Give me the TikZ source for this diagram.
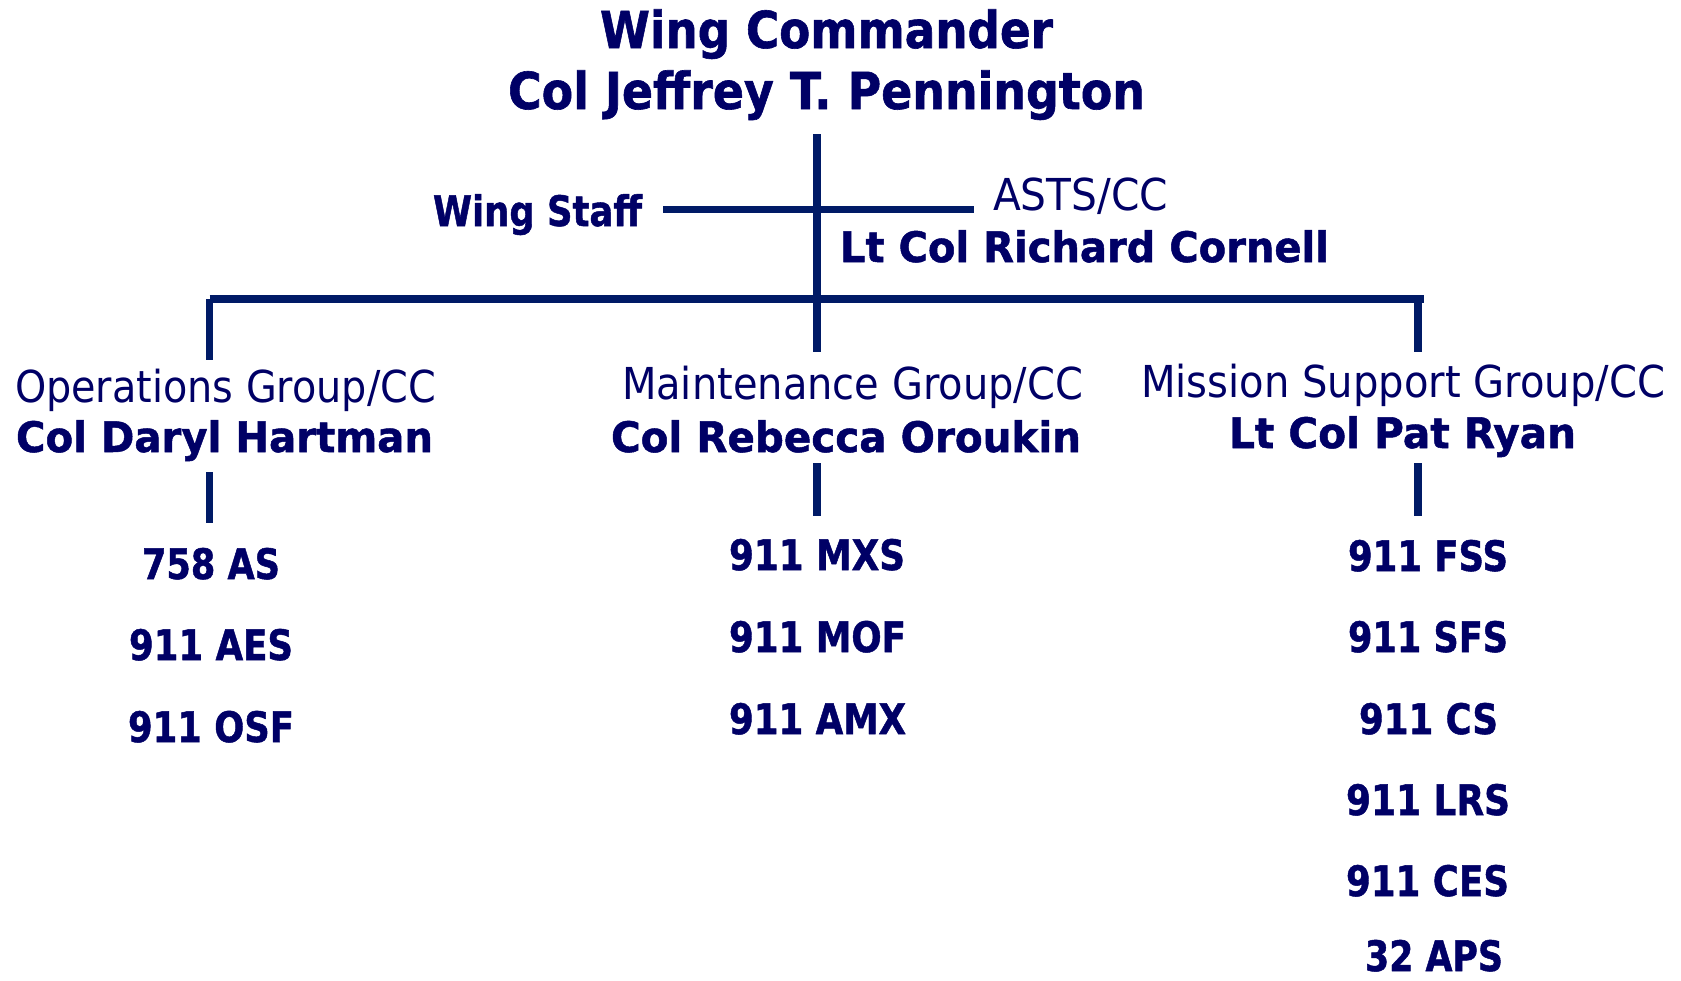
\documentclass[tikz,border=0pt]{standalone}
\usepackage{fontspec}
\setmainfont[BoldFeatures={FakeBold=1.2}]{DejaVu Sans}
\usepackage{graphicx}
\definecolor{txt}{RGB}{0,0,102}
\definecolor{ln}{RGB}{0,26,102}
\newsavebox\fitbox
\newlength\fitlen
\newcommand\fitw[2]{\sbox\fitbox{#2}\setlength\fitlen{\wd\fitbox}\pgfmathsetmacro\fitr{#1/\fitlen}\scalebox{\fitr}[1]{\usebox\fitbox}}
\begin{document}
\begin{tikzpicture}[x=1pt,y=-1pt,
  lbl/.style={anchor=base west, inner sep=0pt, outer sep=0pt, text=txt},
  bigb/.style={lbl, font=\fontsize{51}{60}\selectfont\bfseries},
  medb/.style={lbl, font=\fontsize{42}{50}\selectfont\bfseries},
  reg/.style={lbl, font=\fontsize{44}{52}\selectfont},
  conn/.style={draw=ln, line width=7.5pt}]
\useasboundingbox (0,0) rectangle (1681,980);
% titles
\node[bigb] (wc) at (600,48) {\fitw{453}{Wing Commander}};
\node[bigb] (cc) at (508,109) {\fitw{637}{Col Jeffrey T. Pennington}};
\node[medb] (ws) at (433,226) {\fitw{209}{Wing Staff}};
\node[reg] (asts) at (993,210) {\fitw{175}{ASTS/CC}};
\node[medb] (astsn) at (840,262) {\fitw{489}{Lt Col Richard Cornell}};
\node[reg] (og) at (15,402) {\fitw{421}{Operations Group/CC}};
\node[medb] (ogn) at (16,452) {\fitw{417}{Col Daryl Hartman}};
\node[reg] (mg) at (622,399) {\fitw{461}{Maintenance Group/CC}};
\node[medb] (mgn) at (611,452) {\fitw{470}{Col Rebecca Oroukin}};
\node[reg] (msg) at (1141,397) {\fitw{524}{Mission Support Group/CC}};
\node[medb] (msgn) at (1229,448) {\fitw{347}{Lt Col Pat Ryan}};
% units
\node[medb] (u1) at (142,579) {\fitw{138}{758 AS}};
\node[medb] (u2) at (129,660) {\fitw{164}{911 AES}};
\node[medb] (u3) at (128,742) {\fitw{166}{911 OSF}};
\node[medb] (u4) at (729,570) {\fitw{176}{911 MXS}};
\node[medb] (u5) at (729,652) {\fitw{177}{911 MOF}};
\node[medb] (u6) at (729,734) {\fitw{177}{911 AMX}};
\node[medb] (u7) at (1348,571) {\fitw{160}{911 FSS}};
\node[medb] (u8) at (1348,652) {\fitw{160}{911 SFS}};
\node[medb] (u9) at (1359,734) {\fitw{139}{911 CS}};
\node[medb] (u10) at (1346,815) {\fitw{164}{911 LRS}};
\node[medb] (u11) at (1346,896) {\fitw{163}{911 CES}};
\node[medb] (u12) at (1365,971) {\fitw{138}{32 APS}};
% connector points
\coordinate (top) at (817,134);
\coordinate (mid) at (817,352);
\coordinate (wsL) at (663,209.5);
\coordinate (wsR) at (974,209.5);
\coordinate (barL) at (209.5,299);
\coordinate (barR) at (1424,299);
\coordinate (dLb) at (209.5,360);
\coordinate (dRt) at (1418,299);
\coordinate (dRb) at (1418,352);
\coordinate (lLt) at (209.5,472);
\coordinate (lLb) at (209.5,523);
\coordinate (lMt) at (817,463);
\coordinate (lMb) at (817,516);
\coordinate (lRt) at (1418,463);
\coordinate (lRb) at (1418,516);
\draw[conn] (top) -- (mid);
\draw[conn] (wsL) -- (wsR);
\draw[conn] (barL) -- (barR);
\draw[conn] (barL) -- (dLb);
\draw[conn] (dRt) -- (dRb);
\draw[conn] (lLt) -- (lLb);
\draw[conn] (lMt) -- (lMb);
\draw[conn] (lRt) -- (lRb);
\end{tikzpicture}
\end{document}
